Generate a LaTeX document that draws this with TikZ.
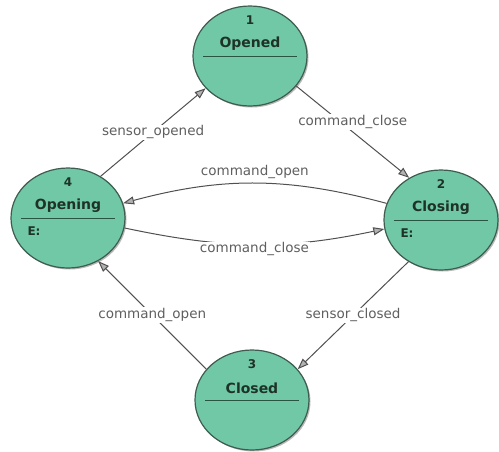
\documentclass[tikz,border=0pt]{standalone}
\usepackage{fontspec}
\setmainfont{DejaVu Sans}
\usetikzlibrary{shapes.geometric,arrows.meta,shadows}
\definecolor{statefill}{RGB}{112,200,166}
\definecolor{stateedge}{RGB}{62,92,80}
\definecolor{stateline}{RGB}{40,85,65}
\definecolor{statetext}{RGB}{30,50,40}
\definecolor{transline}{RGB}{80,80,80}
\definecolor{transtext}{RGB}{95,95,95}
\tikzset{
    state/.style={ellipse, draw=stateedge, line width=1.2pt, fill=statefill,
        minimum width=114pt, minimum height=100pt, inner sep=0pt,
        drop shadow={shadow xshift=1.5pt, shadow yshift=-1.5pt, fill=black!55}},
    num/.style={font=\fontsize{12}{14}\selectfont\bfseries, text=statetext, inner sep=1pt},
    title/.style={font=\fontsize{14}{16}\selectfont\bfseries, text=statetext, inner sep=1pt},
    divider/.style={draw=stateline, line width=1pt},
    trans/.style={draw=transline, line width=1pt,
        -{Triangle[length=11pt, width=8pt, fill=gray!60]}},
    tlabel/.style={font=\fontsize{13.5}{16}\selectfont, text=transtext, fill=white, inner sep=1pt},
}
\begin{document}
\begin{tikzpicture}[x=1pt, y=-1pt]
    \useasboundingbox (0,0) rectangle (499,451);
    \node[state] (Opened) at (250,56) {};
    \node[state] (Opening) at (68,218) {};
    \node[state] (Closing) at (441,220) {};
    \node[state] (Closed) at (252,400) {};

    \node[num] (Opened-num) at ([yshift=36pt]Opened.center) {1};
    \node[title] (Opened-name) at ([yshift=12pt]Opened.center) {Opened};
    \draw[divider] ([xshift=-47pt]Opened.center) -- ([xshift=47pt]Opened.center);

    \node[num] (Closing-num) at ([yshift=36pt]Closing.center) {2};
    \node[title] (Closing-name) at ([yshift=12pt]Closing.center) {Closing};
    \draw[divider] ([xshift=-47pt]Closing.center) -- ([xshift=47pt]Closing.center);
    \node[num] (Closing-e) at ([xshift=-34pt, yshift=-13pt]Closing.center) {E:};

    \node[num] (Closed-num) at ([yshift=36pt]Closed.center) {3};
    \node[title] (Closed-name) at ([yshift=12pt]Closed.center) {Closed};
    \draw[divider] ([xshift=-47pt]Closed.center) -- ([xshift=47pt]Closed.center);

    \node[num] (Opening-num) at ([yshift=36pt]Opening.center) {4};
    \node[title] (Opening-name) at ([yshift=12pt]Opening.center) {Opening};
    \draw[divider] ([xshift=-47pt]Opening.center) -- ([xshift=47pt]Opening.center);
    \node[num] (Opening-e) at ([xshift=-34pt, yshift=-13pt]Opening.center) {E:};

    \draw[trans] (Opening.52) -- node[tlabel] (so) {sensor\_opened} (Opened.216);
    \draw[trans] (Opened.-33) -- node[tlabel, yshift=10pt] (cc1) {command\_close} (Closing.127);
    \draw[trans] (Closing.163) to[out=165, in=15]
        node[tlabel, above=3pt, fill=none] (co1) {command\_open} (Opening.15);
    \draw[trans] (Opening.-10) to[out=-12, in=192]
        node[tlabel, yshift=-5pt] (cc2) {command\_close} (Closing.189);
    \draw[trans] (Closing.232) -- node[tlabel] (sc) {sensor\_closed} (Closed.34);
    \draw[trans] (Closed.146) -- node[tlabel] (co2) {command\_open} (Opening.-55);
\end{tikzpicture}
\end{document}
